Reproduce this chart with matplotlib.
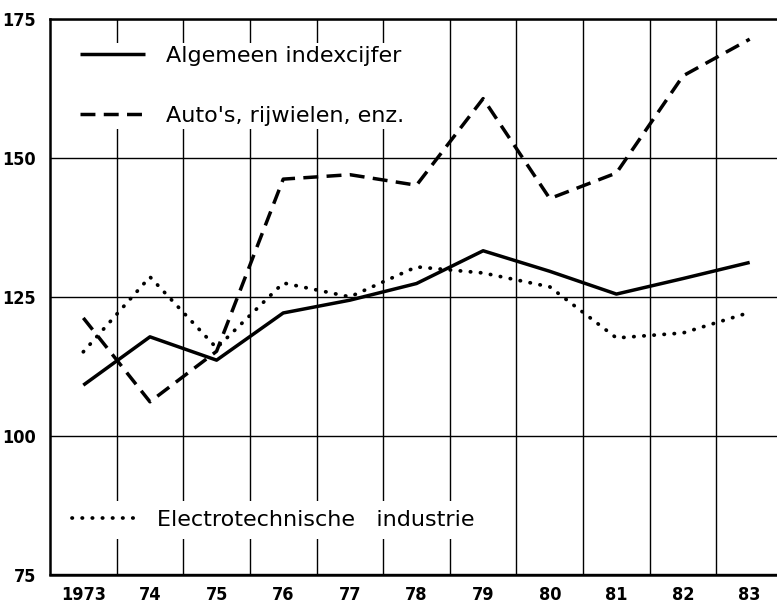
import matplotlib.pyplot as plt
import numpy as np

jaren = [1973, 1974, 1975, 1976, 1977, 1978, 1979, 1980, 1981, 1982, 1983]
jaar_labels = ['1973', '74', '75', '76', '77', '78', '79', '80', '81', '82', '83']

algemeen = [109.1, 117.8, 113.6, 122.1, 124.4, 127.4, 133.3, 129.6, 125.5, 128.3, 131.2]
autos = [121.2, 106.1, 115.2, 146.2, 147.0, 145.1, 160.7, 142.7, 147.3, 164.8, 171.4]
electro = [115.1, 128.6, 115.8, 127.5, 125.0, 130.4, 129.3, 126.8, 117.6, 118.5, 122.2]

y_ticks = [75, 100, 125, 150, 175]

fig = plt.figure(figsize=(7.77, 6.08), dpi=100)
# rechterrand valt net buiten de figuur, zoals in het origineel
ax = fig.add_axes([50 / 777, 33.5 / 608, 733 / 777, 555.3 / 608])

l1, = ax.plot(jaren, algemeen, color='black', lw=2.5, solid_capstyle='butt',
              label='Algemeen indexcijfer')
l2, = ax.plot(jaren, autos, color='black', lw=2.5, dashes=(4.3, 2.4),
              label="Auto's, rijwielen, enz.")
l3, = ax.plot(jaren, electro, color='black', lw=2.7, dashes=(0.1, 2.6),
              dash_capstyle='round', label='Electrotechnische   industrie')

ax.set_xlim(1972.5, 1983.5)
ax.set_ylim(75, 175)

ax.set_xticks(jaren)
ax.set_xticklabels(jaar_labels)
ax.set_xticks(np.arange(1973.5, 1983, 1), minor=True)
ax.set_yticks(y_ticks)

ax.grid(which='minor', axis='x', color='black', lw=1.0)
ax.grid(which='major', axis='y', color='black', lw=1.0)
ax.grid(which='major', axis='x', visible=False)

ax.tick_params(which='both', length=0)
ax.tick_params(axis='x', pad=8)
ax.tick_params(axis='y', pad=10)
for lab in ax.get_xticklabels() + ax.get_yticklabels():
    lab.set_family('DejaVu Sans')
    lab.set_stretch('condensed')
    lab.set_fontweight('bold')
    lab.set_fontsize(13)

for s in ['left', 'bottom', 'top', 'right']:
    ax.spines[s].set_linewidth(1.8)

leg1 = ax.legend(handles=[l1, l2], loc='upper left', bbox_to_anchor=(0.037, 0.958),
                 frameon=True, facecolor='white', edgecolor='none', framealpha=1,
                 fancybox=False, fontsize=16, handlelength=2.9, handletextpad=0.95,
                 labelspacing=1.8, borderpad=0.15, borderaxespad=0)
ax.add_artist(leg1)
ax.legend(handles=[l3], loc='lower left', bbox_to_anchor=(0.018, 0.064),
          frameon=True, facecolor='white', edgecolor='none', framealpha=1,
          fancybox=False, fontsize=16, handlelength=3.0, handletextpad=0.8,
          borderpad=0.4, borderaxespad=0)

fig.savefig('out.png', dpi=100)
